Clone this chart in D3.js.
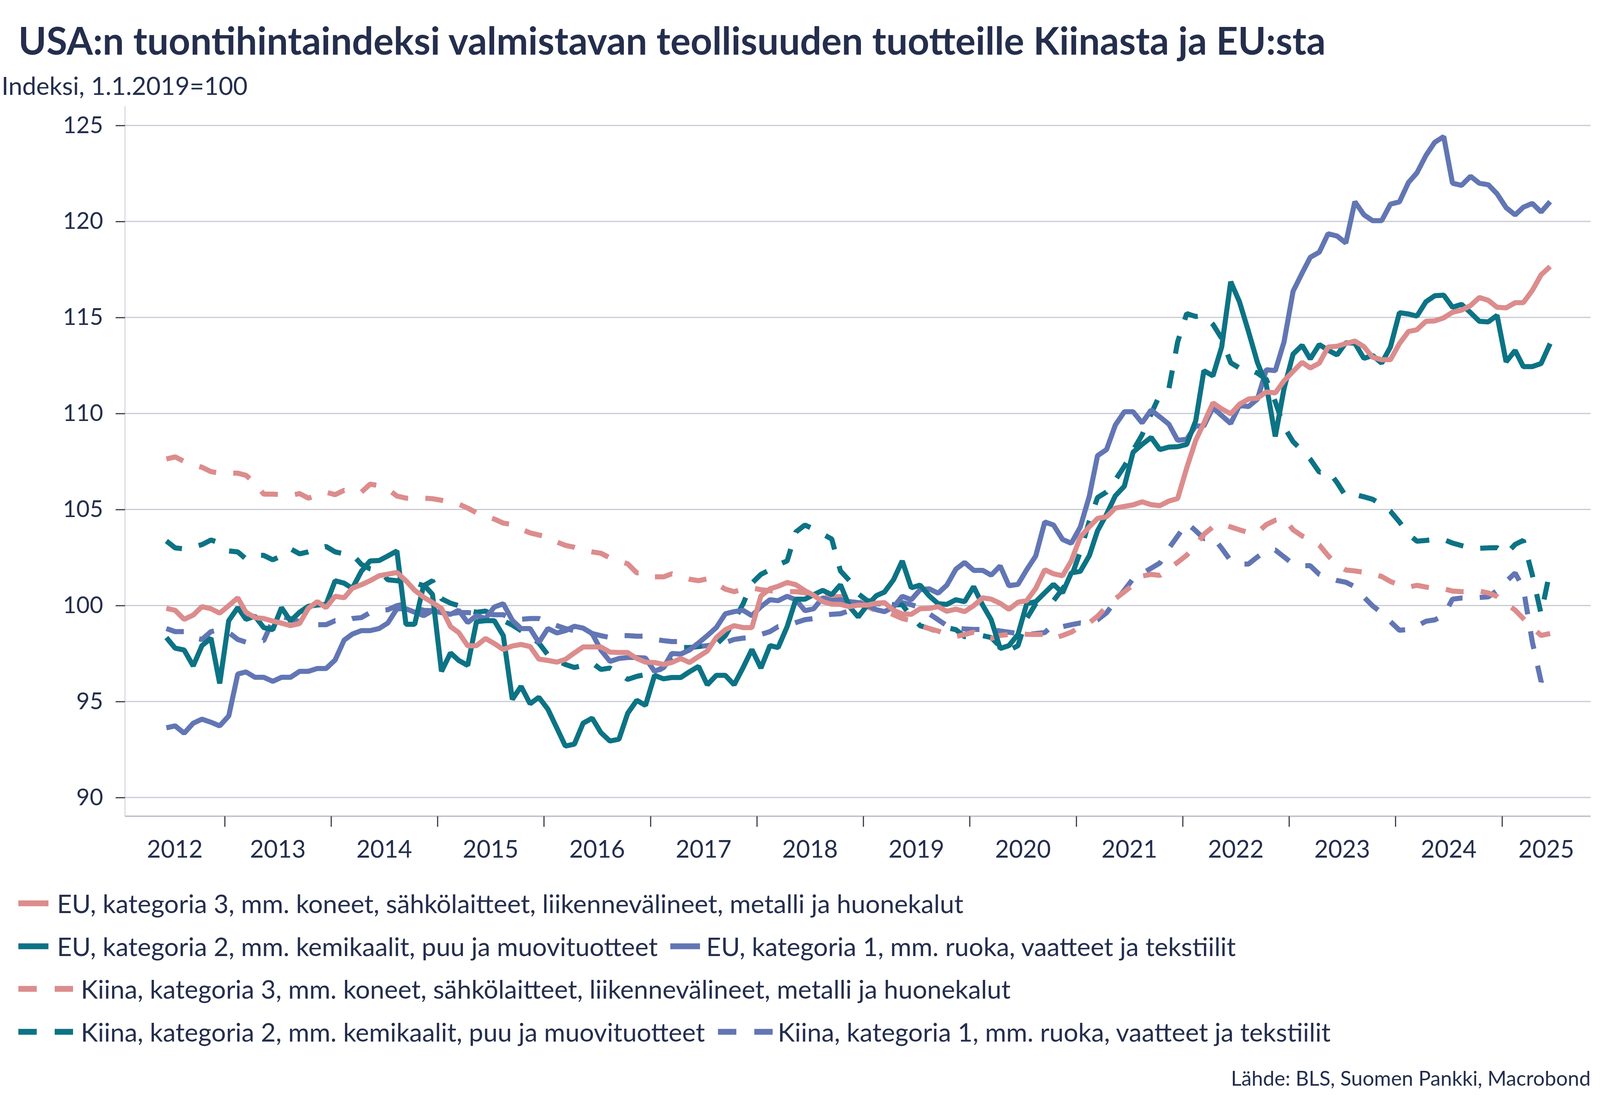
<!DOCTYPE html>
<html>
<head>
<meta charset="utf-8">
<script src="https://cdn.jsdelivr.net/npm/d3@7"></script>
<style>
  body { margin: 0; background: #fff; }
  svg { display: block; }
</style>
</head>
<body>
<div id="chart"></div>
<script>
// monthly data, first point June 2012, last June 2025
var startMonth = new Date(2012, 5, 15);

var euKat3 = [
  99.85, 99.75, 99.28, 99.5, 99.94, 99.83, 99.6, 99.99, 100.4, 99.65,
  99.37, 99.32, 99.19, 99.08, 98.95, 99.06, 99.85, 100.2, 99.89, 100.48,
  100.4, 100.9, 101.08, 101.29, 101.55, 101.63, 101.72, 101.29, 100.79, 100.43,
  100.15, 99.85, 98.9, 98.59, 97.9, 97.91, 98.28, 98.02, 97.71, 97.89,
  97.97, 97.86, 97.21, 97.14, 97.05, 97.19, 97.53, 97.84, 97.84, 97.84,
  97.57, 97.55, 97.55, 97.24, 97.05, 97.03, 96.93, 97.03, 97.24, 97.03,
  97.34, 97.63, 98.33, 98.74, 98.95, 98.85, 98.85, 100.5, 100.87, 101.0,
  101.2, 101.08, 100.77, 100.53, 100.2, 100.07, 100.06, 99.94, 100.02, 100.02,
  100.12, 100.15, 99.75, 99.56, 99.54, 99.83, 99.85, 99.94, 99.7, 99.81,
  99.68, 99.99, 100.4, 100.33, 100.11, 99.8, 100.17, 100.25, 100.89, 101.86,
  101.65, 101.55, 102.32, 103.57, 104.1, 104.53, 104.62, 105.07, 105.16, 105.24,
  105.4, 105.25, 105.2, 105.44, 105.57, 107.16, 108.6, 109.5, 110.55, 110.24,
  109.98, 110.48, 110.75, 110.8, 111.12, 111.07, 111.7, 112.19, 112.66, 112.37,
  112.62, 113.46, 113.5, 113.64, 113.77, 113.48, 112.93, 112.8, 112.8, 113.64,
  114.27, 114.36, 114.8, 114.82, 114.98, 115.27, 115.38, 115.62, 116.04, 115.89,
  115.53, 115.5, 115.77, 115.77, 116.41, 117.22, 117.65
];

var euKat2 = [
  98.33, 97.78, 97.68, 96.85, 97.91, 98.3, 95.94, 99.21, 99.89, 99.28,
  99.44, 98.85, 98.74, 99.89, 99.19, 99.65, 99.96, 100.02, 100.06, 101.29,
  101.16, 100.89, 101.78, 102.32, 102.34, 102.58, 102.84, 99.02, 99.02, 101.08,
  100.58, 96.57, 97.53, 97.14, 96.88, 99.16, 99.21, 99.21, 98.43, 95.11,
  95.79, 94.88, 95.22, 94.6, 93.61, 92.68, 92.78, 93.87, 94.13, 93.38,
  92.94, 93.04, 94.39, 95.06, 94.8, 96.36, 96.18, 96.25, 96.25, 96.55,
  96.83, 95.87, 96.36, 96.36, 95.87, 96.77, 97.71, 96.74, 97.91, 97.81,
  98.9, 100.33, 100.33, 100.56, 100.79, 100.56, 101.08, 99.94, 99.4, 100.02,
  100.51, 100.7, 101.34, 102.32, 100.92, 101.06, 100.51, 100.09, 100.06, 100.3,
  100.2, 100.98, 100.02, 99.26, 97.76, 97.91, 98.49, 100.09, 100.2, 100.66,
  101.1, 100.66, 101.7, 101.78, 102.6, 103.89, 104.75, 105.71, 106.21, 107.98,
  108.39, 108.75, 108.12, 108.25, 108.27, 108.39, 109.62, 112.23, 111.96, 113.46,
  116.86, 115.82, 114.27, 112.64, 111.5, 108.8, 111.3, 113.09, 113.55, 112.84,
  113.59, 113.3, 113.05, 113.68, 113.66, 112.87, 113.02, 112.62, 113.46, 115.25,
  115.18, 115.07, 115.82, 116.13, 116.16, 115.53, 115.68, 115.25, 114.8, 114.77,
  115.11, 112.69, 113.28, 112.44, 112.44, 112.6, 113.64
];

var euKat1 = [
  93.63, 93.73, 93.35, 93.87, 94.08, 93.92, 93.73, 94.25, 96.43, 96.54,
  96.26, 96.26, 96.05, 96.26, 96.26, 96.57, 96.57, 96.72, 96.72, 97.16,
  98.2, 98.51, 98.69, 98.69, 98.8, 99.09, 99.83, 99.83, 99.65, 99.47,
  99.73, 99.63, 99.54, 99.75, 99.11, 99.47, 99.32, 99.92, 100.09, 99.23,
  98.8, 98.8, 98.07, 98.8, 98.57, 98.69, 98.92, 98.82, 98.54, 97.68,
  97.09, 97.24, 97.29, 97.29, 97.26, 96.57, 96.77, 97.5, 97.47, 97.68,
  98.05, 98.43, 98.85, 99.57, 99.68, 99.75, 99.47, 99.94, 100.3, 100.25,
  100.48, 100.3, 99.73, 99.83, 100.4, 100.25, 100.3, 100.2, 100.15, 100.02,
  99.78, 99.68, 99.92, 100.48, 100.3, 100.82, 100.87, 100.64, 101.06, 101.89,
  102.24, 101.83, 101.83, 101.58, 102.06, 101.03, 101.1, 101.86, 102.58, 104.35,
  104.19, 103.44, 103.24, 104.09, 105.7, 107.8, 108.12, 109.39, 110.09, 110.09,
  109.51, 110.18, 109.82, 109.44, 108.6, 108.66, 109.35, 109.35, 110.3, 109.89,
  109.48, 110.42, 110.36, 110.75, 112.28, 112.23, 113.73, 116.36, 117.31, 118.13,
  118.4, 119.36, 119.24, 118.88, 121.03, 120.35, 120.04, 120.04, 120.9, 121.02,
  122.03, 122.53, 123.44, 124.12, 124.42, 121.99, 121.88, 122.35, 121.99, 121.91,
  121.44, 120.72, 120.34, 120.74, 120.94, 120.49, 121.03
];

var kiinaKat3 = [
  107.63, 107.74, 107.5, 107.32, 107.2, 106.97, 106.89, 106.89, 106.89, 106.78,
  106.37, 105.8, 105.8, 105.77, 105.73, 105.83, 105.59, 105.75, 105.9, 105.77,
  106.0, 105.95, 105.9, 106.32, 106.24, 106.06, 105.7, 105.59, 105.59, 105.59,
  105.56, 105.48, 105.38, 105.28, 105.07, 104.83, 104.66, 104.5, 104.29, 104.21,
  103.98, 103.78, 103.67, 103.57, 103.31, 103.13, 103.03, 102.89, 102.79, 102.72,
  102.48, 102.32, 102.17, 101.7, 101.7, 101.49, 101.49, 101.65, 101.49, 101.37,
  101.29, 101.39, 101.13, 100.85, 100.72, 100.85, 100.92, 100.82, 100.77, 100.72,
  100.72, 100.72, 100.66, 100.54, 100.5, 100.46, 100.46, 100.44, 100.25, 99.94,
  99.73, 99.71, 99.52, 99.32, 99.21, 98.95, 98.8, 98.67, 98.49, 98.38,
  98.49, 98.61, 98.33, 98.28, 98.44, 98.49, 98.54, 98.5, 98.49, 98.49,
  98.28, 98.44, 98.61, 98.9, 99.1, 99.44, 99.94, 100.35, 100.71, 101.07,
  101.53, 101.62, 101.57, 101.91, 102.25, 102.62, 103.12, 103.71, 104.09, 104.24,
  104.09, 103.94, 103.8, 103.8, 104.21, 104.44, 104.53, 103.94, 103.62, 103.45,
  103.15, 102.6, 102.1, 101.85, 101.8, 101.73, 101.64, 101.51, 101.25, 101.07,
  100.96, 101.05, 100.96, 100.89, 100.87, 100.75, 100.72, 100.72, 100.75, 100.65,
  100.47, 100.1, 99.76, 99.32, 98.85, 98.44, 98.54
];

var kiinaKat2 = [
  103.36, 103.0, 102.95, 103.05, 103.17, 103.41, 103.26, 102.84, 102.79, 102.43,
  102.61, 102.61, 102.38, 102.58, 102.95, 102.69, 102.79, 102.97, 103.07, 102.79,
  102.69, 102.66, 102.14, 101.91, 101.8, 101.34, 101.29, 101.23, 101.18, 101.03,
  101.29, 100.35, 100.12, 99.99, 99.75, 99.65, 99.71, 99.47, 99.21, 98.98,
  98.69, 98.38, 98.05, 97.43, 97.14, 96.93, 96.77, 96.88, 97.01, 96.67,
  96.74, 96.46, 96.15, 96.31, 96.41, 96.51, 96.77, 97.34, 97.81, 97.81,
  97.86, 97.97, 97.97, 98.43, 99.21, 100.09, 101.16, 101.62, 101.86, 102.12,
  102.32, 103.83, 104.19, 103.98, 103.72, 103.46, 101.8, 101.29, 100.61, 100.25,
  100.2, 100.12, 100.04, 100.04, 99.42, 98.95, 98.8, 98.64, 98.85, 98.74,
  98.38, 98.38, 98.43, 98.33, 97.86, 97.66, 97.91, 99.32, 100.09, 100.25,
  100.25, 100.87, 101.49, 102.8, 104.4, 105.62, 105.91, 106.53, 107.25, 108.07,
  108.89, 109.98, 110.98, 111.3, 113.73, 115.2, 115.05, 115.09, 114.64, 113.91,
  112.64, 112.37, 112.32, 112.1, 111.78, 110.6, 109.3, 108.53, 108.07, 107.62,
  106.94, 107.03, 106.4, 105.69, 105.78, 105.66, 105.53, 105.25, 104.91, 104.35,
  103.71, 103.35, 103.39, 103.44, 103.44, 103.25, 103.12, 103.0, 102.98, 103.0,
  103.01, 102.68, 103.18, 103.39, 101.59, 99.56, 101.83
];

var kiinaKat1 = [
  98.8, 98.64, 98.64, 98.33, 98.23, 98.64, 98.74, 98.59, 98.23, 98.09,
  98.12, 98.17, 99.21, 99.42, 99.32, 99.16, 99.16, 99.0, 99.0, 99.21,
  99.16, 99.32, 99.37, 99.63, 99.73, 99.78, 99.99, 100.09, 99.89, 99.75,
  99.73, 99.6, 99.57, 99.63, 99.63, 99.6, 99.57, 99.52, 99.52, 99.28,
  99.28, 99.32, 99.32, 99.13, 98.95, 98.8, 98.69, 98.64, 98.54, 98.43,
  98.33, 98.43, 98.43, 98.4, 98.4, 98.23, 98.17, 98.12, 98.12, 98.02,
  97.86, 97.91, 97.97, 98.07, 98.23, 98.3, 98.33, 98.49, 98.64, 98.9,
  98.95, 99.11, 99.26, 99.32, 99.5, 99.54, 99.57, 99.73, 99.89, 100.02,
  100.09, 100.09, 100.12, 100.15, 100.04, 99.89, 99.57, 99.26, 98.95, 98.82,
  98.78, 98.75, 98.75, 98.75, 98.67, 98.61, 98.54, 98.49, 98.54, 98.59,
  99.0, 98.9, 99.0, 99.09, 99.05, 99.25, 99.62, 100.21, 100.8, 101.39,
  101.66, 101.94, 102.21, 102.98, 103.62, 104.3, 103.89, 103.48, 103.57, 102.98,
  102.33, 102.16, 102.16, 102.53, 102.85, 102.89, 102.53, 102.16, 102.07, 102.07,
  101.62, 101.45, 101.3, 101.21, 100.98, 100.44, 99.98, 99.62, 99.16, 98.71,
  98.75, 98.93, 99.18, 99.25, 99.48, 100.33, 100.39, 100.39, 100.42, 100.45,
  100.78, 101.25, 101.69, 100.91, 98.1, 96.04, 96.75
];

var yTicks = [90, 95, 100, 105, 110, 115, 120, 125];
var years = d3.range(2012, 2026);

var seriesNames = [
  "EU, kategoria 3, mm. koneet, sähkölaitteet, liikennevälineet, metalli ja huonekalut",
  "EU, kategoria 2, mm. kemikaalit, puu ja muovituotteet",
  "EU, kategoria 1, mm. ruoka, vaatteet ja tekstiilit",
  "Kiina, kategoria 3, mm. koneet, sähkölaitteet, liikennevälineet, metalli ja huonekalut",
  "Kiina, kategoria 2, mm. kemikaalit, puu ja muovituotteet",
  "Kiina, kategoria 1, mm. ruoka, vaatteet ja tekstiilit"
];
var seriesValues = [euKat3, euKat2, euKat1, kiinaKat3, kiinaKat2, kiinaKat1];

var pink = "#dc8c8c", teal = "#0c7385", blue = "#6276b4";
var textColor = "#242e4d";
var gridColor = "#c9cad3";
var font = "Lato, 'Open Sans', sans-serif";
var seriesColors = [pink, teal, blue, pink, teal, blue];
var seriesDashed = [false, false, false, true, true, true];
var dash = "46,44";

var W = 4152, H = 2855;
var plotLeft = 320, plotRight = 4072, plotTop = 272, plotBottom = 2090;

var svg = d3.select("#chart").append("svg")
  .attr("width", W)
  .attr("height", H)
  .style("background", "#fff");

// font size that makes the text span the target width
function sizeFor(node, target) {
  var w = node.getComputedTextLength();
  var fs = parseFloat(d3.select(node).attr("font-size"));
  return fs * target / w;
}
function fitWidth(sel, target) {
  var nfs = sizeFor(sel.node(), target);
  sel.attr("font-size", nfs);
  return nfs;
}

// scales
var x = d3.scaleTime()
  .domain([new Date(2012, 0, 25), new Date(2025, 10, 1)])
  .range([plotLeft, plotRight]);
var y = d3.scaleLinear()
  .domain([89.025, 126])
  .range([plotBottom, plotTop]);

// title + subtitle
var title = svg.append("text")
  .attr("x", 47).attr("y", 140)
  .attr("font-family", font).attr("font-weight", 700)
  .attr("font-size", 80).attr("fill", textColor)
  .text("USA:n tuontihintaindeksi valmistavan teollisuuden tuotteille Kiinasta ja EU:sta");
fitWidth(title, 3347);

var sub = svg.append("text")
  .attr("x", 4).attr("y", 243)
  .attr("font-family", font).attr("font-size", 60).attr("fill", textColor)
  .text("Indeksi, 1.1.2019=100");
fitWidth(sub, 630);

// gridlines
svg.append("g").selectAll("line")
  .data(yTicks)
  .join("line")
  .attr("x1", plotLeft).attr("x2", plotRight)
  .attr("y1", function(d){ return y(d); })
  .attr("y2", function(d){ return y(d); })
  .attr("stroke", gridColor).attr("stroke-width", 3);

// left and bottom axis lines
svg.append("line")
  .attr("x1", plotLeft).attr("x2", plotLeft)
  .attr("y1", plotTop).attr("y2", plotBottom)
  .attr("stroke", gridColor).attr("stroke-width", 2);
svg.append("line")
  .attr("x1", plotLeft).attr("x2", plotRight)
  .attr("y1", plotBottom).attr("y2", plotBottom)
  .attr("stroke", "#c3c4ce").attr("stroke-width", 4);

// y axis
var yAxis = svg.append("g")
  .attr("transform", "translate(" + plotLeft + ",0)")
  .call(d3.axisLeft(y).tickValues(yTicks).tickSize(24).tickPadding(32));
yAxis.select(".domain").remove();
yAxis.selectAll(".tick line").attr("stroke", "#3d3d45").attr("stroke-width", 3);
yAxis.selectAll(".tick text")
  .attr("font-family", font).attr("font-size", 60).attr("fill", textColor);
var yLab = yAxis.selectAll(".tick text").filter(function(d){ return d === 125; });
var yfs = fitWidth(yLab, 103);
yAxis.selectAll(".tick text").attr("font-size", yfs);

// x axis ticks at year boundaries
var xAxis = svg.append("g")
  .attr("transform", "translate(0," + plotBottom + ")")
  .call(d3.axisBottom(x)
    .tickValues(years.slice(1).map(function(yr){ return new Date(yr, 0, 1); }))
    .tickSize(27).tickFormat(""));
xAxis.select(".domain").remove();
xAxis.selectAll(".tick line").attr("stroke", "#3d3d45").attr("stroke-width", 3);

// year labels centered in the visible part of each year
var yearLabels = svg.append("g").selectAll("text")
  .data(years)
  .join("text")
  .attr("x", function(yr){
    var a = Math.max(x(new Date(yr, 0, 1)), plotLeft);
    var b = Math.min(x(new Date(yr + 1, 0, 1)), plotRight);
    return (a + b) / 2;
  })
  .attr("y", 2196)
  .attr("text-anchor", "middle")
  .attr("font-family", font).attr("font-size", 60).attr("fill", textColor)
  .text(function(yr){ return yr; });
var xfs = fitWidth(d3.select(yearLabels.nodes()[0]), 143);
yearLabels.attr("font-size", xfs);

// lines
var line = d3.line()
  .x(function(d, i){ return x(d3.timeMonth.offset(startMonth, i)); })
  .y(function(d){ return y(d); });

var order = [5, 4, 3, 2, 1, 0];
svg.append("g").selectAll("path")
  .data(order)
  .join("path")
  .attr("d", function(k){ return line(seriesValues[k]); })
  .attr("fill", "none")
  .attr("stroke", function(k){ return seriesColors[k]; })
  .attr("stroke-width", 13)
  .attr("stroke-linejoin", "bevel")
  .attr("stroke-dasharray", function(k){ return seriesDashed[k] ? dash : null; });

// legend
var legendItems = [
  {k: 0, mx: 47, len: 77, tx: 146, w: 2356, row: 0},
  {k: 1, mx: 47, len: 77, tx: 146, w: 1538, row: 1},
  {k: 2, mx: 1716, len: 76, tx: 1808, w: 1369, row: 1},
  {k: 3, mx: 47, len: 140, tx: 207, w: 2419, row: 2},
  {k: 4, mx: 47, len: 140, tx: 207, w: 1601, row: 3},
  {k: 5, mx: 1838, len: 140, tx: 1991, w: 1430, row: 3}
];
var rowY = [2313, 2423, 2532, 2642];

var legend = svg.append("g");
legend.selectAll("line")
  .data(legendItems)
  .join("line")
  .attr("x1", function(d){ return d.mx; })
  .attr("x2", function(d){ return d.mx + d.len; })
  .attr("y1", function(d){ return rowY[d.row]; })
  .attr("y2", function(d){ return rowY[d.row]; })
  .attr("stroke", function(d){ return seriesColors[d.k]; })
  .attr("stroke-width", 15)
  .attr("stroke-dasharray", function(d){ return seriesDashed[d.k] ? "47,46" : null; });

var legendText = legend.selectAll("text")
  .data(legendItems)
  .join("text")
  .attr("x", function(d){ return d.tx; })
  .attr("y", function(d){ return rowY[d.row] + 25; })
  .attr("font-family", font).attr("font-size", 60).attr("fill", textColor)
  .text(function(d){ return seriesNames[d.k]; });
// one size for all entries, small enough that none runs past its measured width
var lfs = d3.min(legendText.nodes(), function(n){ return sizeFor(n, d3.select(n).datum().w); });
legendText.attr("font-size", lfs);

// source
var src = svg.append("text")
  .attr("x", 4072).attr("y", 2780)
  .attr("text-anchor", "end")
  .attr("font-family", font).attr("font-size", 48).attr("fill", textColor)
  .text("Lähde: BLS, Suomen Pankki, Macrobond");
fitWidth(src, 921);
</script>
</body>
</html>
